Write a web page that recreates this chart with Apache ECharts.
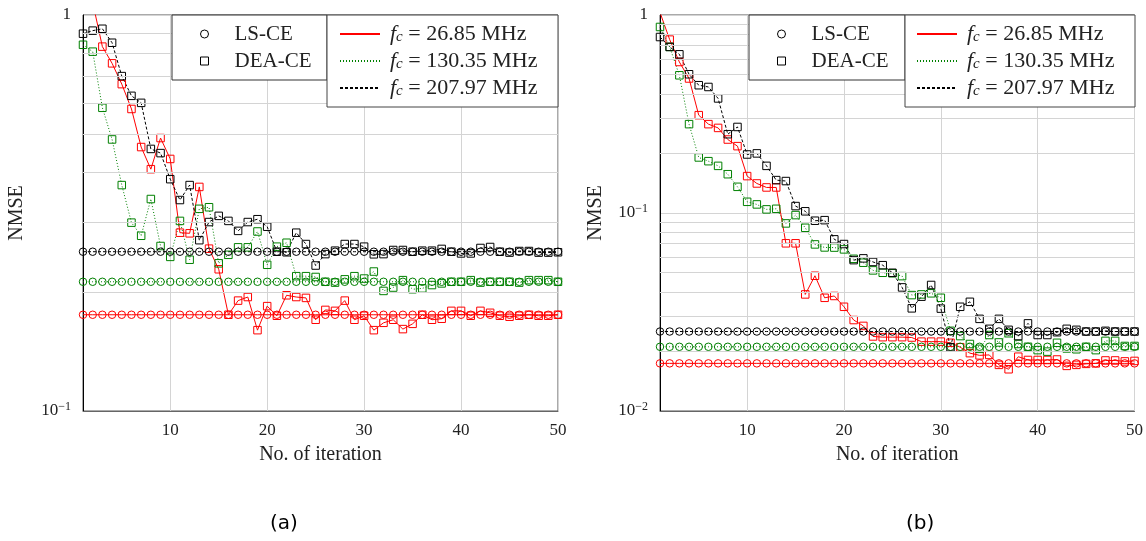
<!DOCTYPE html>
<html>
<head>
<meta charset="utf-8">
<script src="https://cdn.jsdelivr.net/npm/echarts@6/dist/echarts.min.js"></script>
<style>
html,body{margin:0;padding:0;background:#fff;}
#chart{width:1146px;height:541px;}
</style>
</head>
<body>
<div id="chart"></div>
<script>
// ---------------- data ----------------
const iterations = [1,2,3,4,5,6,7,8,9,10,11,12,13,14,15,16,17,18,19,20,21,22,23,24,25,26,27,28,29,30,31,32,33,34,35,36,37,38,39,40,41,42,43,44,45,46,47,48,49,50];
const xTickValues = [10, 20, 30, 40, 50];
const minorGridA = [0.2, 0.3, 0.4, 0.5, 0.6, 0.7, 0.8, 0.9];
const minorGridB = [0.02, 0.03, 0.04, 0.05, 0.06, 0.07, 0.08, 0.09, 0.2, 0.3, 0.4, 0.5, 0.6, 0.7, 0.8, 0.9];

const freqLabels = ['26.85 MHz', '130.35 MHz', '207.97 MHz'];
const methodLabels = ['LS-CE', 'DEA-CE'];
const captions = ['(a)', '(b)'];

// panel (a)
const lsA_26 = [0.175,0.175,0.175,0.175,0.175,0.175,0.175,0.175,0.175,0.175,0.175,0.175,0.175,0.175,0.175,0.175,0.175,0.175,0.175,0.175,0.175,0.175,0.175,0.175,0.175,0.175,0.175,0.175,0.175,0.175,0.175,0.175,0.175,0.175,0.175,0.175,0.175,0.175,0.175,0.175,0.175,0.175,0.175,0.175,0.175,0.175,0.175,0.175,0.175,0.175];
const lsA_130 = [0.212,0.212,0.212,0.212,0.212,0.212,0.212,0.212,0.212,0.212,0.212,0.212,0.212,0.212,0.212,0.212,0.212,0.212,0.212,0.212,0.212,0.212,0.212,0.212,0.212,0.212,0.212,0.212,0.212,0.212,0.212,0.212,0.212,0.212,0.212,0.212,0.212,0.212,0.212,0.212,0.212,0.212,0.212,0.212,0.212,0.212,0.212,0.212,0.212,0.212];
const lsA_207 = [0.2525,0.2525,0.2525,0.2525,0.2525,0.2525,0.2525,0.2525,0.2525,0.2525,0.2525,0.2525,0.2525,0.2525,0.2525,0.2525,0.2525,0.2525,0.2525,0.2525,0.2525,0.2525,0.2525,0.2525,0.2525,0.2525,0.2525,0.2525,0.2525,0.2525,0.2525,0.2525,0.2525,0.2525,0.2525,0.2525,0.2525,0.2525,0.2525,0.2525,0.2525,0.2525,0.2525,0.2525,0.2525,0.2525,0.2525,0.2525,0.2525,0.2525];
const deaA_26 = [1.3,1.075,0.832,0.755,0.669,0.579,0.464,0.408,0.489,0.433,
                 0.282,0.281,0.368,0.257,0.228,0.175,0.190,0.194,0.160,0.184,
                 0.174,0.196,0.194,0.193,0.170,0.180,0.179,0.190,0.170,0.174,
                 0.160,0.167,0.170,0.161,0.166,0.175,0.170,0.171,0.179,0.179,
                 0.174,0.179,0.177,0.174,0.173,0.174,0.175,0.174,0.174,0.175];
const deaA_130 = [0.841,0.808,0.583,0.485,0.372,0.299,0.277,0.343,0.261,0.245,
                  0.302,0.241,0.324,0.327,0.236,0.248,0.259,0.259,0.284,0.234,
                  0.260,0.266,0.219,0.219,0.218,0.212,0.211,0.215,0.219,0.216,
                  0.225,0.201,0.205,0.214,0.203,0.204,0.208,0.210,0.212,0.212,
                  0.214,0.211,0.212,0.212,0.212,0.211,0.214,0.214,0.214,0.212];
const deaA_207 = [0.897,0.913,0.923,0.851,0.701,0.625,0.600,0.459,0.448,0.385,
                  0.341,0.372,0.270,0.300,0.311,0.302,0.285,0.300,0.305,0.292,
                  0.2525,0.2517,0.282,0.264,0.233,0.249,0.254,0.264,0.264,0.260,
                  0.2487,0.249,0.255,0.255,0.2525,0.254,0.254,0.2566,0.2525,0.250,
                  0.250,0.258,0.2595,0.2525,0.2512,0.2535,0.2535,0.2512,0.2512,0.2517];

// panel (b)
const lsB_26 = [0.0174,0.0174,0.0174,0.0174,0.0174,0.0174,0.0174,0.0174,0.0174,0.0174,0.0174,0.0174,0.0174,0.0174,0.0174,0.0174,0.0174,0.0174,0.0174,0.0174,0.0174,0.0174,0.0174,0.0174,0.0174,0.0174,0.0174,0.0174,0.0174,0.0174,0.0174,0.0174,0.0174,0.0174,0.0174,0.0174,0.0174,0.0174,0.0174,0.0174,0.0174,0.0174,0.0174,0.0174,0.0174,0.0174,0.0174,0.0174,0.0174,0.0174];
const lsB_130 = [0.0211,0.0211,0.0211,0.0211,0.0211,0.0211,0.0211,0.0211,0.0211,0.0211,0.0211,0.0211,0.0211,0.0211,0.0211,0.0211,0.0211,0.0211,0.0211,0.0211,0.0211,0.0211,0.0211,0.0211,0.0211,0.0211,0.0211,0.0211,0.0211,0.0211,0.0211,0.0211,0.0211,0.0211,0.0211,0.0211,0.0211,0.0211,0.0211,0.0211,0.0211,0.0211,0.0211,0.0211,0.0211,0.0211,0.0211,0.0211,0.0211,0.0211];
const lsB_207 = [0.0252,0.0252,0.0252,0.0252,0.0252,0.0252,0.0252,0.0252,0.0252,0.0252,0.0252,0.0252,0.0252,0.0252,0.0252,0.0252,0.0252,0.0252,0.0252,0.0252,0.0252,0.0252,0.0252,0.0252,0.0252,0.0252,0.0252,0.0252,0.0252,0.0252,0.0252,0.0252,0.0252,0.0252,0.0252,0.0252,0.0252,0.0252,0.0252,0.0252,0.0252,0.0252,0.0252,0.0252,0.0252,0.0252,0.0252,0.0252,0.0252,0.0252];
const deaB_26 = [1.03,0.751,0.579,0.478,0.312,0.281,0.269,0.235,0.2176,0.1536,
                 0.141,0.1346,0.1346,0.0703,0.0703,0.0388,0.0482,0.0373,0.0381,0.0336,
                 0.0288,0.0269,0.0238,0.0236,0.0236,0.0236,0.0235,0.0224,0.0224,0.0224,
                 0.0221,0.0210,0.0196,0.0191,0.0192,0.0171,0.01625,0.0188,0.0181,0.0181,
                 0.0181,0.0182,0.0169,0.0171,0.0173,0.0174,0.0180,0.0180,0.0178,0.0179];
const deaB_130 = [0.870,0.690,0.496,0.281,0.1908,0.1827,0.173,0.157,0.1356,0.1139,
                  0.1105,0.1043,0.105,0.0886,0.0976,0.0842,0.0694,0.067,0.0669,0.0655,
                  0.0587,0.0561,0.0513,0.0499,0.0496,0.048,0.0385,0.0388,0.0393,0.0373,
                  0.0254,0.0239,0.0218,0.0206,0.0242,0.0222,0.0247,0.0218,0.0211,0.0203,
                  0.01995,0.0221,0.0207,0.0205,0.0211,0.0203,0.0226,0.0226,0.0213,0.0213];
const deaB_207 = [0.774,0.690,0.633,0.502,0.442,0.433,0.379,0.250,0.272,0.1975,
                  0.200,0.173,0.1466,0.145,0.1084,0.102,0.0914,0.092,0.0736,0.0697,
                  0.0578,0.059,0.0566,0.0545,0.0499,0.0421,0.033,0.0378,0.0433,0.0329,
                  0.021,0.0336,0.0356,0.0292,0.026,0.0292,0.0257,0.0239,0.0277,0.0242,
                  0.0242,0.025,0.026,0.0257,0.0252,0.0252,0.0254,0.0252,0.0252,0.0252];

// ---------------- styling ----------------
const FONT = "'Liberation Serif', 'Times New Roman', serif";
const TXT = '#222';
const GRIDC = '#d4d4d4';
const freqStyles = [
  {color: '#ff0000', type: 'solid'},
  {color: '#008000', type: [1, 2]},
  {color: '#000000', type: [3, 2]}
];
const panels = [
  {ls: [lsA_26, lsA_130, lsA_207], dea: [deaA_26, deaA_130, deaA_207], min: 0.1, minor: minorGridA},
  {ls: [lsB_26, lsB_130, lsB_207], dea: [deaB_26, deaB_130, deaB_207], min: 0.01, minor: minorGridB}
];
const gridPos = [
  {left: 83, top: 15, width: 475, height: 396},
  {left: 660, top: 15, width: 475, height: 396}
];

function supLabel(v) {
  const e = Math.round(Math.log10(v));
  if (e === 0) return '1';
  return '{b|10}{s|−' + (-e) + '}';
}

const xAxes = [], yAxes = [], grids = [], series = [];
panels.forEach((p, g) => {
  grids.push(Object.assign({show: true, borderColor: '#555', borderWidth: 1, backgroundColor: '#fff'}, gridPos[g]));
  xAxes.push({
    type: 'value', gridIndex: g, min: 1, max: 50,
    name: 'No. of iteration', nameLocation: 'middle', nameGap: 34,
    nameTextStyle: {fontFamily: FONT, fontSize: 20, color: TXT},
    axisLine: {show: true, onZero: false, lineStyle: {color: '#666', width: 1}},
    axisTick: {show: false, customValues: xTickValues},
    axisLabel: {customValues: xTickValues, fontFamily: FONT, fontSize: 17, color: TXT, margin: 11},
    splitLine: {show: true, lineStyle: {color: GRIDC, width: 1}}
  });
  yAxes.push({
    type: 'log', logBase: 10, gridIndex: g, min: p.min, max: 1,
    name: 'NMSE', nameLocation: 'middle', nameRotate: 90, nameGap: g === 0 ? 56 : 54,
    nameTextStyle: {fontFamily: FONT, fontSize: 20, color: TXT},
    axisLine: {show: true, lineStyle: {color: '#000', width: 1}},
    axisTick: {show: false},
    axisLabel: {
      formatter: supLabel, margin: 12, fontFamily: FONT, fontSize: 17, color: TXT,
      rich: {
        b: {fontFamily: FONT, fontSize: 17, color: TXT, lineHeight: 20},
        s: {fontFamily: FONT, fontSize: 12, color: TXT, lineHeight: 10, verticalAlign: 'top'}
      }
    },
    splitLine: {show: true, lineStyle: {color: GRIDC, width: 1}}
  });
  // minor log grid lines
  series.push({
    type: 'line', xAxisIndex: g, yAxisIndex: g, data: [], silent: true, z: 1,
    markLine: {
      silent: true, symbol: ['none', 'none'], label: {show: false}, animation: false,
      lineStyle: {color: GRIDC, width: 1, type: 'solid'},
      data: p.minor.map(v => ({yAxis: v}))
    }
  });
  [0, 1, 2].forEach(f => {
    const st = freqStyles[f];
    [['ls', 'circle'], ['dea', 'rect']].forEach(([k, sym]) => {
      const vals = p[k][f];
      series.push({
        type: 'line', xAxisIndex: g, yAxisIndex: g, silent: true, clip: true,
        data: iterations.map((x, i) => [x, vals[i]]),
        symbol: sym, symbolSize: 7.5, showSymbol: true, showAllSymbol: true,
        itemStyle: {color: 'rgba(0,0,0,0)', borderColor: st.color, borderWidth: 1},
        lineStyle: {color: st.color, width: 1, type: st.type},
        emphasis: {disabled: true}
      });
    });
  });
});

// dummy series for legends
series.push({type: 'line', name: 'LS-CE', xAxisIndex: 0, yAxisIndex: 0, data: [], symbol: 'circle', itemStyle: {color: '#000'}});
series.push({type: 'line', name: 'DEA-CE', xAxisIndex: 0, yAxisIndex: 0, data: [], symbol: 'rect', itemStyle: {color: '#000'}});
freqLabels.forEach((lab, f) => {
  series.push({type: 'line', name: 'fc' + f, xAxisIndex: 0, yAxisIndex: 0, data: [], symbol: 'none',
    itemStyle: {color: freqStyles[f].color},
    lineStyle: {color: freqStyles[f].color, width: 1, type: freqStyles[f].type}});
});

const hollow = {color: 'rgba(0,0,0,0)', borderColor: '#000', borderWidth: 1};
const noSymbol = {color: 'rgba(0,0,0,0)', borderColor: 'rgba(0,0,0,0)', borderWidth: 0, opacity: 0};
const legends = [];
const graphics = [];
const legendPos = [
  {box1: [172, 15, 155, 65], m: 200, box2: [327, 15, 231, 92], f: 339},
  {box1: [749, 15, 156, 65], m: 777, box2: [905, 15, 230, 92], f: 916}
];
legendPos.forEach(lp => {
  graphics.push({type: 'rect', z: 50, shape: {x: lp.box1[0], y: lp.box1[1], width: lp.box1[2], height: lp.box1[3]},
    style: {fill: '#fff', stroke: '#333', lineWidth: 1}});
  graphics.push({type: 'rect', z: 51, shape: {x: lp.box2[0], y: lp.box2[1], width: lp.box2[2], height: lp.box2[3]},
    style: {fill: '#fff', stroke: '#444', lineWidth: 1}});
  legends.push({
    z: 60, left: lp.m, top: 23, orient: 'vertical', itemWidth: 50, itemHeight: 8, itemGap: 5,
    padding: 0, selectedMode: false,
    data: [
      {name: 'LS-CE', icon: 'circle', itemStyle: hollow},
      {name: 'DEA-CE', icon: 'path://M0,0L10,0L10,10L0,10Z', itemStyle: hollow}
    ],
    formatter: n => n,
    textStyle: {fontFamily: FONT, fontSize: 21, lineHeight: 22, color: TXT}
  });
  legends.push({
    z: 60, left: lp.f, top: 23, orient: 'vertical', itemWidth: 40, itemHeight: 14, itemGap: 5,
    padding: 0, selectedMode: false,
    data: [
      {name: 'fc0', itemStyle: noSymbol},
      {name: 'fc1', itemStyle: noSymbol},
      {name: 'fc2', itemStyle: noSymbol}
    ],
    formatter: n => '{i|f}{s|c}{t| = ' + freqLabels[+n.slice(2)] + '}',
    textStyle: {
      fontFamily: FONT, fontSize: 22, lineHeight: 22, color: TXT,
      rich: {
        i: {fontFamily: FONT, fontStyle: 'italic', fontSize: 22, lineHeight: 22, color: TXT, padding: [0, 0, 0, 5]},
        s: {fontFamily: FONT, fontStyle: 'italic', fontSize: 15, color: TXT, lineHeight: 6, verticalAlign: 'bottom'},
        t: {fontFamily: FONT, fontSize: 22, lineHeight: 22, color: TXT}
      }
    }
  });
});

const titles = [
  {text: captions[0], left: 265, top: 509, textStyle: {fontFamily: "'DejaVu Sans', sans-serif", fontSize: 20, fontWeight: 'normal', color: '#000'}},
  {text: captions[1], left: 901, top: 509, textStyle: {fontFamily: "'DejaVu Sans', sans-serif", fontSize: 20, fontWeight: 'normal', color: '#000'}}
];

const chart = echarts.init(document.getElementById('chart'), null, {renderer: 'canvas'});
chart.setOption({
  animation: false,
  backgroundColor: '#fff',
  title: titles,
  grid: grids,
  xAxis: xAxes,
  yAxis: yAxes,
  legend: legends,
  graphic: graphics,
  series: series
});
</script>
</body>
</html>
